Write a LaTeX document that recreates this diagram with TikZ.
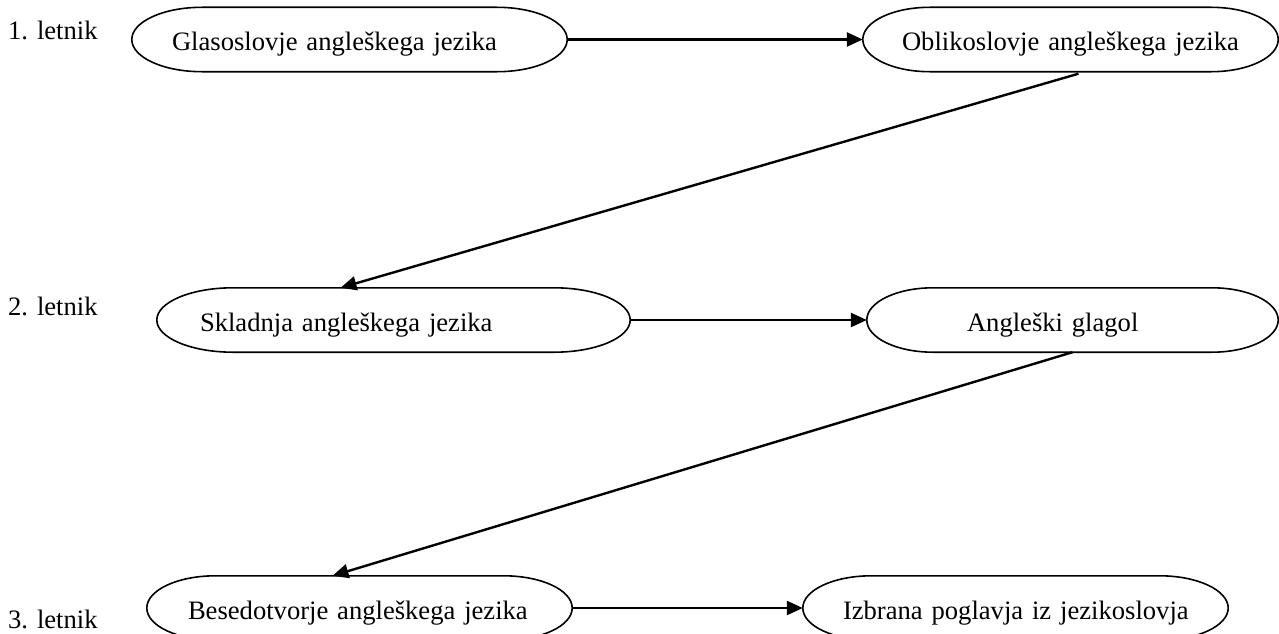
\documentclass[tikz,border=0pt]{standalone}
\usepackage{fontspec}
\setmainfont{Liberation Serif}
\usetikzlibrary{arrows.meta,calc}

\tikzset{
  term/.style={inner sep=0pt, text height=22pt, text depth=0pt, minimum height=64pt, align=left},
  year/.style={anchor=base west, inner sep=0pt},
  link/.style={line width=2.4pt, -{Triangle[length=16pt,width=14pt]}},
}
% outline with flat top and elliptic ends, round a named node
\newcommand{\termframe}[1]{%
  \draw [line width=1.6pt] let \p1=(#1.south west), \p2=(#1.north east),
    \n1={0.161*(\x2-\x1)}, \n2={0.5*(\y2-\y1)} in
    ({\x1+\n1*1pt},\y2) -- ({\x2-\n1*1pt},\y2)
    arc [start angle=90, end angle=-90, x radius=\n1*1pt, y radius=\n2*1pt]
    -- ({\x1+\n1*1pt},\y1)
    arc [start angle=270, end angle=90, x radius=\n1*1pt, y radius=\n2*1pt] -- cycle;}

\begin{document}
\begin{tikzpicture}[x=1pt, y=-1pt, font=\fontsize{26.6}{32}\selectfont]
    \path [use as bounding box] (0,0) rectangle (1279,634);
    \clip (0,0) rectangle (1279,634);
    % years
    \node [year] (y1) at (8,40) {1. letnik};
    \node [year] (y2) at (8,315) {2. letnik};
    \node [year] (y3) at (8,628) {3. letnik};
    % courses
    \node [term, text width=435pt] (gla) at (349.5,39.5) {\hspace*{40pt}Glasoslovje angleškega jezika};
    \node [term, text width=415pt] (obl) at (1070.5,39.5) {\hspace*{39pt}Oblikoslovje angleškega jezika};
    \node [term, text width=473pt] (skl) at (393.5,320) {\hspace*{43pt}Skladnja angleškega jezika};
    \node [term, text width=411pt] (ang) at (1072.5,320) {\hspace*{100pt}Angleški glagol};
    \node [term, text width=425pt] (bes) at (359.5,608) {\hspace*{41pt}Besedotvorje angleškega jezika};
    \node [term, text width=425pt] (izb) at (1015.5,608) {\hspace*{40pt}Izbrana poglavja iz jezikoslovja};
    \foreach \t in {gla,obl,skl,ang,bes,izb} {\termframe{\t}}
    % order
    \draw [link] (gla.east) -- (obl.west);
    \draw [link] ([xshift=8pt,yshift=-2pt]obl.south) -- ([xshift=-53pt]skl.north);
    \draw [link] (skl.east) -- (ang.west);
    \draw [link] (ang.south) -- ([xshift=-27pt]bes.north);
    \draw [link] (bes.east) -- (izb.west);
\end{tikzpicture}
\end{document}
